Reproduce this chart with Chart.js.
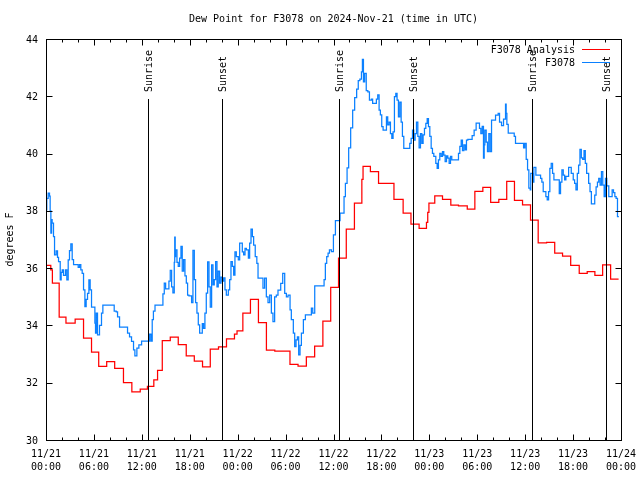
<!DOCTYPE html>
<html>
<head>
<meta charset="utf-8">
<script src="https://cdn.jsdelivr.net/npm/chart.js@4"></script>
<style>
  html, body { margin: 0; padding: 0; background: #fff; }
  canvas { display: block; }
</style>
</head>
<body>
<canvas id="myChart" width="640" height="480"></canvas>
<script>
// hours since 2024-11-21 00:00 UTC
const analysisHours = [0, 0.6, 0.8, 1.65, 2.5, 3.65, 4.7, 5.7, 6.6, 7.6, 8.6, 9.7, 10.75, 11.8, 12.7, 13.5, 13.97,
    14.56, 15.56, 16.56, 17.56, 18.57, 19.6, 20.57, 21.6, 22.6, 23.6, 23.92, 24.65, 25.6, 26.6, 27.6, 28.65,
    30.55, 31.56, 32.6, 33.64, 34.67, 35.65, 36.63, 37.6, 38.62, 39.55, 39.7, 40.62, 41.64, 43.57, 44.72, 45.7,
    46.72, 47.64, 47.8, 47.95, 48.68, 49.65, 50.69, 51.65, 52.75, 53.7, 54.7, 55.68, 56.7, 57.69, 58.66, 59.67,
    60.67, 61.63, 62.68, 63.7, 64.68, 65.7, 66.77, 67.77, 68.73, 69.7, 70.7, 71.7];
const analysisTemps = [36.1, 35.94, 35.48, 34.29, 34.08, 34.22, 33.56, 33.07, 32.57, 32.74, 32.5, 32.0, 31.68, 31.78, 31.87, 32.1, 32.43,
    33.47, 33.59, 33.33, 32.94, 32.75, 32.55, 33.17, 33.25, 33.53, 33.7, 33.81, 34.43, 34.91, 34.1, 33.14, 33.1,
    32.64, 32.58, 32.9, 33.28, 34.15, 35.33, 36.35, 37.36, 38.27, 39.1, 39.55, 39.37, 38.96, 38.4, 37.92, 37.54,
    37.39, 37.6, 37.95, 38.27, 38.52, 38.4, 38.2, 38.17, 38.06, 38.68, 38.82, 38.3, 38.4, 39.03, 38.37, 38.21,
    37.68, 36.88, 36.9, 36.52, 36.42, 36.1, 35.82, 35.88, 35.75, 36.11, 35.62, 35.62];

const obsHours = [0, 0.1, 0.27, 0.44, 0.52, 0.61, 0.7, 0.77, 0.94, 1.07, 1.27, 1.44, 1.57, 1.78, 1.9, 2.03, 2.19, 2.44,
    2.61, 2.78, 2.94, 3.11, 3.28, 3.45, 4.03, 4.2, 4.36, 4.53, 4.7, 4.87, 5.03, 5.2, 5.37, 5.53, 5.7, 6.12, 6.2,
    6.29, 6.45, 6.7, 6.95, 7.12, 8.54, 8.79, 8.96, 9.21, 10.21, 10.46, 10.71, 10.96, 11.13, 11.38, 11.63, 11.97,
    12.97, 13.14, 13.3, 13.45, 13.65, 14.64, 14.81, 14.98, 15.39, 15.56, 15.73, 15.89, 16.06, 16.12, 16.18, 16.23,
    16.4, 16.56, 16.73, 16.9, 17.06, 17.23, 17.4, 17.57, 17.73, 17.9, 18.23, 18.4, 18.57, 18.73, 18.9, 19.07,
    19.24, 19.57, 19.73, 19.9, 20.07, 20.24, 20.41, 20.57, 20.74, 20.91, 21.07, 21.24, 21.41, 21.57, 21.74,
    21.91, 22.08, 22.24, 22.41, 22.58, 22.83, 23.0, 23.16, 23.33, 23.5, 23.66, 23.83, 24.08, 24.25, 24.58, 24.75,
    24.92, 25.09, 25.34, 25.5, 25.67, 25.84, 26.0, 26.2, 26.4, 26.55, 27.17, 27.38, 27.59, 27.8, 28.01, 28.22,
    28.42, 28.63, 28.84, 29.05, 29.39, 29.64, 29.89, 30.1, 30.31, 30.56, 30.72, 30.97, 31.14, 31.31, 31.48,
    31.64, 31.81, 31.98, 32.23, 32.48, 33.23, 33.4, 33.65, 34.82, 34.98, 35.15, 35.32, 35.49, 35.74, 35.99,
    36.24, 36.82, 37.32, 37.49, 37.7, 37.9, 38.15, 38.4, 38.65, 38.9, 39.1, 39.3, 39.5, 39.62, 39.75, 39.9,
    40.1, 40.3, 40.5, 40.75, 40.9, 41.37, 41.54, 41.71, 41.87, 42.04, 42.21, 42.63, 42.79, 42.96, 43.13, 43.3,
    43.46, 43.63, 43.8, 43.96, 44.13, 44.3, 44.47, 44.63, 44.8, 45.55, 45.72, 45.89, 46.05, 46.22, 46.39,
    46.56, 46.72, 46.89, 47.06, 47.22, 47.39, 47.56, 47.73, 47.89, 48.06, 48.23, 48.39, 48.56, 48.81, 48.98,
    49.14, 49.31, 49.48, 49.65, 49.81, 49.98, 50.15, 50.31, 50.48, 50.65, 50.81, 51.65, 51.82, 51.99, 52.15,
    52.32, 52.49, 52.65, 52.82, 53.36, 53.61, 53.86, 54.28, 54.45, 54.62, 54.78, 54.87, 54.95, 55.12, 55.28,
    55.45, 55.62, 55.79, 56.29, 56.62, 56.79, 57.04, 57.29, 57.54, 57.62, 57.71, 57.88, 58.63, 58.79, 59.8,
    59.96, 60.13, 60.3, 60.46, 60.63, 60.7, 60.93, 61.09, 61.34, 61.93, 62.09, 62.26, 62.59, 62.76, 62.93,
    63.09, 63.26, 63.43, 63.6, 64.27, 64.43, 64.6, 64.77, 64.94, 65.1, 65.44, 65.77, 66.02, 66.19, 66.36,
    66.53, 66.69, 66.86, 67.03, 67.2, 67.37, 67.53, 67.7, 67.95, 68.12, 68.29, 68.71, 68.88, 69.05, 69.21,
    69.38, 69.55, 69.72, 69.89, 70.05, 70.22, 70.47, 70.89, 71.06, 71.23, 71.39, 71.56, 71.73];
const obsTemps = [38.03, 38.44, 38.62, 38.51, 38.0, 37.22, 37.69, 37.57, 37.1, 36.46, 36.6, 36.38, 36.23, 35.59, 35.85, 35.94, 35.75, 35.94,
    35.59, 36.29, 36.61, 36.85, 36.3, 36.12, 36.03, 36.12, 35.94, 35.82, 35.24, 34.66, 34.91, 35.12, 35.59, 35.24, 34.64, 34.08, 33.73,
    34.43, 33.67, 34.0, 34.43, 34.71, 34.5, 34.47, 34.3, 33.94, 33.73, 33.6, 33.44, 33.15, 32.94, 33.21, 33.32, 33.45,
    33.7, 33.45, 34.2, 34.5, 34.71, 35.1, 35.48, 35.28, 35.55, 35.92, 35.35, 35.14, 36.2, 37.08, 36.4, 36.64,
    36.2, 36.06, 36.35, 36.76, 35.9, 36.3, 35.73, 35.48, 35.06, 35.03, 34.8, 36.62, 35.6, 34.8, 34.43, 34.02,
    33.73, 34.06, 33.9, 34.43, 35.13, 36.22, 35.35, 34.64, 36.11, 35.42, 35.6, 36.23, 35.35, 35.9, 35.48,
    35.69, 35.55, 35.66, 35.24, 35.06, 35.24, 35.6, 36.23, 36.06, 35.76, 36.57, 36.4, 36.29, 36.87, 36.57, 36.46,
    36.69, 36.64, 36.35, 36.87, 37.36, 37.1, 36.8, 36.4, 36.17, 35.65, 35.3, 35.65, 35.0, 34.8, 35.06, 34.43,
    34.13, 35.0, 35.06, 35.23, 35.47, 35.82, 35.12, 35.0, 35.06, 34.54, 34.2, 33.73, 33.26, 33.5, 33.6,
    32.97, 33.3, 33.73, 34.2, 34.37, 34.6, 34.43, 35.38, 35.6, 36.17, 36.4, 36.52, 36.64, 36.58, 37.16,
    37.66, 37.92, 38.5, 38.96, 39.5, 40.2, 40.9, 41.52, 41.95, 42.25, 42.55, 42.6, 42.85, 43.29, 42.5, 42.8,
    42.2, 42.15, 41.87, 41.9, 41.75, 41.9, 42.05, 41.52, 41.35, 40.94, 40.82, 41.28, 41.0, 41.1, 40.7, 40.53,
    40.76, 41.99, 42.1, 41.87, 41.28, 41.8, 41.1, 40.6, 40.18, 40.36, 40.53, 40.82, 40.47, 40.7, 41.1,
    40.6, 40.2, 40.7, 40.36, 40.65, 40.88, 41.05, 41.22, 40.94, 40.6, 40.18, 40.01, 39.9, 39.66, 39.48,
    39.78, 40.01, 39.9, 40.07, 39.95, 39.72, 39.92, 39.84, 39.66, 39.9, 39.78, 40.01, 40.25, 40.47, 40.1,
    40.3, 40.13, 40.47, 40.5, 40.63, 40.82, 41.06, 40.88, 40.7, 40.95, 39.84, 40.3, 40.82, 40.4, 40.07,
    40.7, 40.07, 41.17, 41.34, 41.4, 41.1, 40.98, 41.2, 41.73, 41.4, 41.02, 40.71, 40.6, 40.36, 40.2,
    40.36, 39.8, 39.43, 38.79, 38.73, 39.31, 39.0, 39.52, 39.25, 39.13, 39.0, 38.67, 38.5, 38.38, 38.67,
    39.48, 39.66, 39.31, 39.08, 38.6, 39.0, 39.43, 39.25, 39.08, 39.2, 39.52, 39.31, 39.08, 38.96, 38.73,
    39.31, 39.6, 40.15, 39.85, 39.8, 40.1, 39.66, 39.31, 38.96, 38.67, 38.24, 38.55, 38.84, 39.0, 39.13,
    38.9, 39.37, 38.9, 38.5, 39.13, 38.87, 38.5, 38.73, 38.64, 38.5, 38.44, 37.8, 37.8];

const sunHours = [12.76, 22.03, 36.69, 45.97, 60.8, 70.08];
const sunLabels = ['Sunrise', 'Sunset', 'Sunrise', 'Sunset', 'Sunrise', 'Sunset'];
const sunLineTop = 41.9;

const xTickHours = [0, 6, 12, 18, 24, 30, 36, 42, 48, 54, 60, 66, 72];
const xTickLabels = [['11/21', '00:00'], ['11/21', '06:00'], ['11/21', '12:00'], ['11/21', '18:00'],
    ['11/22', '00:00'], ['11/22', '06:00'], ['11/22', '12:00'], ['11/22', '18:00'],
    ['11/23', '00:00'], ['11/23', '06:00'], ['11/23', '12:00'], ['11/23', '18:00'], ['11/24', '00:00']];
const yTicks = [30, 32, 34, 36, 38, 40, 42, 44];

const seriesNames = ['F3078 Analysis', 'F3078'];
const seriesColors = ['#ff0000', '#0a80ff'];
const chartTitle = 'Dew Point for F3078 on 2024-Nov-21 (time in UTC)';
const yTitle = 'degrees F';

const FONT = '10px "DejaVu Sans Mono", monospace';

const toPoints = (xs, ys) => xs.map((h, i) => ({ x: h, y: ys[i] }));

// axes, frame, sun markers and key drawn the gnuplot way
const gnuplotLook = {
    id: 'gnuplotLook',
    afterDatasetsDraw(chart) {
        const { ctx, chartArea: a, scales: { x, y } } = chart;
        ctx.save();
        ctx.strokeStyle = '#000';
        ctx.fillStyle = '#000';
        ctx.lineWidth = 1;
        ctx.font = FONT;

        // sunrise / sunset markers
        const top = Math.round(y.getPixelForValue(sunLineTop));
        sunHours.forEach((h, i) => {
            const px = Math.round(x.getPixelForValue(h)) + 0.5;
            ctx.beginPath();
            ctx.moveTo(px, top);
            ctx.lineTo(px, a.bottom);
            ctx.stroke();
            ctx.save();
            ctx.translate(px + 1, top - 7);
            ctx.rotate(-Math.PI / 2);
            ctx.textAlign = 'left';
            ctx.textBaseline = 'middle';
            ctx.fillText(sunLabels[i], 0, 0);
            ctx.restore();
        });

        // frame
        const L = Math.round(a.left) + 0.5, R = Math.round(a.right) + 0.5;
        const T = Math.round(a.top) + 0.5, B = Math.round(a.bottom) + 0.5;
        ctx.strokeRect(L, T, R - L, B - T);

        // x ticks: major every 6 h, minor every 2 h
        ctx.beginPath();
        for (let h = 0; h <= 72; h += 2) {
            const px = Math.round(x.getPixelForValue(h)) + 0.5;
            const len = h % 6 === 0 ? 6 : 3;
            ctx.moveTo(px, B); ctx.lineTo(px, B - len);
            ctx.moveTo(px, T); ctx.lineTo(px, T + len);
        }
        yTicks.forEach(v => {
            const py = Math.round(y.getPixelForValue(v)) + 0.5;
            ctx.moveTo(L, py); ctx.lineTo(L + 6, py);
            ctx.moveTo(R, py); ctx.lineTo(R - 6, py);
        });
        ctx.stroke();

        // tick labels
        ctx.textAlign = 'center';
        ctx.textBaseline = 'middle';
        xTickHours.forEach((h, i) => {
            const px = x.getPixelForValue(h);
            ctx.fillText(xTickLabels[i][0], px, a.bottom + 14);
            ctx.fillText(xTickLabels[i][1], px, a.bottom + 27);
        });
        ctx.textAlign = 'right';
        yTicks.forEach(v => {
            ctx.fillText(String(v), a.left - 8, y.getPixelForValue(v) + 1);
        });

        // titles
        ctx.textAlign = 'center';
        ctx.fillText(chartTitle, (a.left + a.right) / 2, 19);
        ctx.save();
        ctx.translate(10, (a.top + a.bottom) / 2);
        ctx.rotate(-Math.PI / 2);
        ctx.fillText(yTitle, 0, 0);
        ctx.restore();

        // key
        ctx.textAlign = 'right';
        seriesNames.forEach((name, i) => {
            const ky = 50 + i * 13;
            ctx.fillStyle = '#000';
            ctx.fillText(name, 575, ky);
            ctx.strokeStyle = seriesColors[i];
            ctx.beginPath();
            ctx.moveTo(582, ky - 0.5);
            ctx.lineTo(610, ky - 0.5);
            ctx.stroke();
        });
        ctx.restore();
    }
};

new Chart(document.getElementById('myChart'), {
    type: 'line',
    data: {
        datasets: [{
            label: seriesNames[0],
            data: toPoints(analysisHours, analysisTemps),
            borderColor: seriesColors[0],
            borderWidth: 1.25,
            stepped: 'before',
            pointRadius: 0,
            fill: false
        }, {
            label: seriesNames[1],
            data: toPoints(obsHours, obsTemps),
            borderColor: seriesColors[1],
            borderWidth: 1.25,
            stepped: 'before',
            pointRadius: 0,
            fill: false
        }]
    },
    options: {
        responsive: false,
        animation: false,
        layout: { padding: { left: 46, right: 19, top: 39, bottom: 40 } },
        plugins: {
            legend: { display: false },
            title: { display: false },
            tooltip: { enabled: false }
        },
        scales: {
            x: { type: 'linear', min: 0, max: 72, display: false },
            y: { type: 'linear', min: 30, max: 44, display: false }
        }
    },
    plugins: [gnuplotLook]
});
</script>
</body>
</html>
